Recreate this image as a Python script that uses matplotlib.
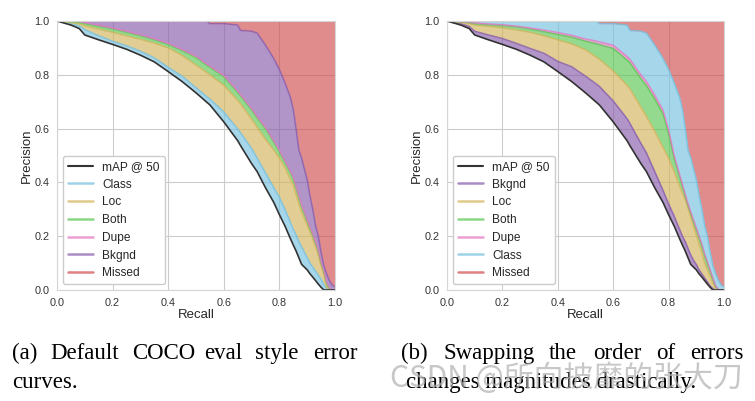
import matplotlib
matplotlib.use('Agg')
import matplotlib.pyplot as plt
import seaborn as sns

# recall grid shared by every curve
recall = [0, .05, .08, .1, .15, .2, .25, .3, .35, .4, .45, .5, .54, .55, .6, .65, .66,
          .7, .72, .75, .78, .8, .82, .84, .85, .86, .87, .88, .89, .9, .91, .92, .93,
          .94, .95, .96, .97, .98, .99, 1.0]

# mAP @ 50 precision curve (no errors fixed)
p_base = [1.0, .985, .972, .948, .930, .913, .895, .873, .848, .812, .775, .733, .697, .688,
          .625, .555, .537, .470, .440, .380, .325, .280, .238, .190, .167, .145, .120, .095,
          .085, .075, .060, .048, .035, .022, .010, 0, 0, 0, 0, 0]

# every error fixed except missed (top of the stack in both plots)
p_all = [1.0, 1.0, 1.0, 1.0, 1.0, 1.0, 1.0, 1.0, 1.0, 1.0, 1.0, 1.0, 1.0, .99, .99, .985,
         .965, .962, .955, .91, .86, .82, .77, .715, .67, .60, .52, .49, .45, .41, .35, .30,
         .24, .20, .14, .09, .06, .035, .018, .012]

# (a) default order: Class, Loc, Both, Dupe, Bkgnd
a_class = [1.0, .99, .982, .968, .945, .925, .908, .888, .863, .828, .795, .752, .718, .710,
           .662, .598, .585, .526, .490, .435, .380, .345, .300, .250, .225, .205, .180, .160,
           .140, .120, .100, .085, .070, .055, .040, .020, .005, 0, 0, 0]
a_loc = [1.0, .995, .99, .982, .97, .958, .945, .932, .918, .90, .872, .836, .808, .80, .761,
         .705, .693, .635, .605, .56, .52, .49, .455, .41, .39, .355, .32, .29, .265, .24, .215,
         .19, .16, .13, .09, .055, .01, 0, 0, 0]
a_both = [1.0, .998, .995, .99, .98, .97, .958, .945, .93, .913, .89, .865, .835, .828, .793,
          .735, .722, .67, .64, .60, .55, .515, .475, .435, .415, .38, .345, .31, .285, .257,
          .23, .205, .175, .145, .10, .07, .025, .005, 0, 0]
a_dupe = [1.0, 1.0, .998, .994, .984, .974, .962, .949, .934, .917, .894, .869, .839, .832,
          .797, .739, .726, .674, .644, .604, .554, .519, .479, .439, .419, .384, .349, .314,
          .289, .261, .234, .209, .179, .149, .104, .074, .029, .008, 0, 0]

# (b) swapped order: Bkgnd, Loc, Both, Dupe, Class
b_bkgnd = [1.0, .99, .98, .962, .948, .935, .917, .898, .88, .85, .83, .795, .765, .757, .703,
           .637, .62, .545, .51, .44, .37, .32, .275, .225, .20, .18, .155, .13, .11, .095,
           .075, .06, .045, .03, .015, .005, 0, 0, 0, 0]
b_loc = [1.0, .995, .99, .985, .98, .975, .967, .958, .945, .93, .915, .893, .865, .858, .814,
         .761, .748, .68, .645, .59, .53, .49, .44, .385, .36, .335, .305, .27, .235, .205, .17,
         .14, .10, .075, .05, .025, .005, 0, 0, 0]
b_both = [1.0, .997, .994, .99, .986, .983, .978, .97, .96, .95, .94, .925, .915, .912, .898,
          .855, .845, .786, .76, .71, .655, .58, .49, .42, .385, .35, .315, .285, .255, .225,
          .195, .165, .13, .10, .07, .04, .012, 0, 0, 0]
b_dupe = [1.0, .998, .996, .993, .989, .986, .981, .974, .966, .957, .947, .933, .925, .922,
          .91, .868, .858, .80, .775, .724, .668, .595, .50, .428, .392, .356, .321, .29, .26,
          .23, .2, .17, .134, .104, .074, .044, .015, .002, 0, 0]

colors = {'Class': '#76c0df', 'Loc': '#d3b55b', 'Both': '#59c652', 'Dupe': '#e377c2',
          'Bkgnd': '#875bab', 'Missed': '#d04d4e'}

sns.set_style('whitegrid')
plt.rcParams['font.family'] = ['Liberation Sans', 'DejaVu Sans']


def draw(ax, layers):
    prev = p_base
    for name, curve in layers:
        ax.fill_between(recall, prev, curve, color=colors[name], alpha=0.65, lw=0)
        prev = curve
    ax.fill_between(recall, prev, 1.0, color=colors['Missed'], alpha=0.65, lw=0)
    for name, curve in layers:
        ax.plot(recall, curve, color=colors[name], lw=1.1, alpha=0.8)
    ax.plot(recall, p_base, color='#333333', lw=1.2)
    # legend handles
    handles = [plt.Line2D([], [], color='#333333', lw=1.5, label='mAP @ 50')]
    for name, _ in layers:
        handles.append(plt.Line2D([], [], color=colors[name], lw=1.8, alpha=0.7, label=name))
    handles.append(plt.Line2D([], [], color=colors['Missed'], lw=1.8, alpha=0.7, label='Missed'))
    ax.legend(handles=handles, loc='lower left', fontsize=8.6, labelspacing=0.48,
              handlelength=2.1, framealpha=1, edgecolor='#cccccc')
    ax.set_xlim(0, 1)
    ax.set_ylim(0, 1)
    ax.set_xticks([0, .2, .4, .6, .8, 1.0])
    ax.set_yticks([0, .2, .4, .6, .8, 1.0])
    ax.tick_params(labelsize=7.8, colors='#333333', pad=2)
    ax.set_xlabel('Recall', fontsize=9.5, labelpad=1)
    ax.set_ylabel('Precision', fontsize=9.5, labelpad=1)
    for s in ax.spines.values():
        s.set_color('#d5d5d5')


fig = plt.figure(figsize=(7.55, 4.01), dpi=100)
ax1 = fig.add_axes([57 / 755, 111 / 401, 278 / 755, 269 / 401])
ax2 = fig.add_axes([447 / 755, 111 / 401, 277 / 755, 269 / 401])

draw(ax1, [('Class', a_class), ('Loc', a_loc), ('Both', a_both), ('Dupe', a_dupe),
           ('Bkgnd', p_all)])
draw(ax2, [('Bkgnd', b_bkgnd), ('Loc', b_loc), ('Both', b_both), ('Dupe', b_dupe),
           ('Class', p_all)])

# captions, words placed to mimic the justified text
cap = dict(family='Liberation Serif', fontsize=16.5, color='black', va='baseline')
line1_a = [('(a)', 12), ('Default', 50), ('COCO', 132), ('eval', 204), ('style', 255), ('error', 313)]
line1_b = [('(b)', 401), ('Swapping', 444), ('the', 549), ('order', 593), ('of', 656), ('errors', 690)]
for word, x in line1_a + line1_b:
    fig.text(x / 755, 1 - 359 / 401, word, **cap)
fig.text(12 / 755, 1 - 388 / 401, 'curves.', **cap)
fig.text(406 / 755, 1 - 388 / 401, 'changes magnitudes drastically.', **cap)

# watermark
fig.text(566 / 755, 1 - 378 / 401, 'CSDN @所向披靡的张大刀', fontsize=21.5, color='#b0b0b0',
         alpha=0.7, ha='center', va='center', family=['Noto Sans CJK SC', 'DejaVu Sans'])

fig.savefig('out.png', dpi=100)
